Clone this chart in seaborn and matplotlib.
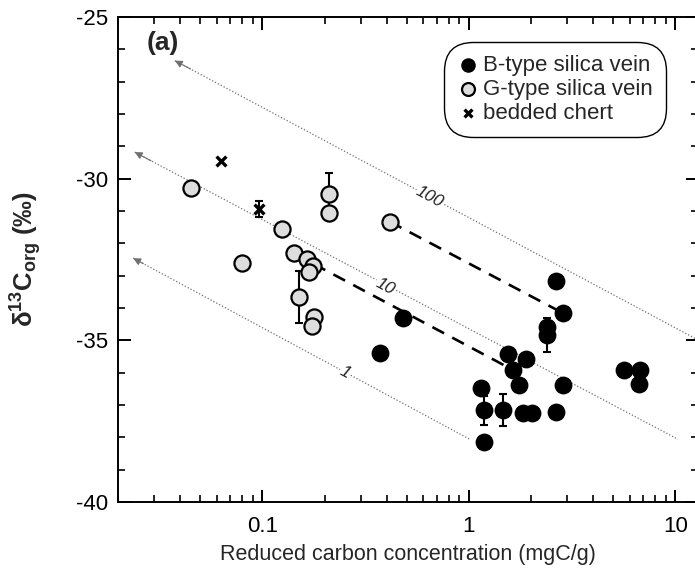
import numpy as np
import pandas as pd
import matplotlib
matplotlib.use("Agg")
import matplotlib.pyplot as plt
import seaborn as sns
from matplotlib.ticker import LogLocator, FixedLocator, MultipleLocator, FuncFormatter

# ---------------- data ----------------
b_x = [0.371, 0.481, 1.143, 1.18, 1.18, 1.456, 1.55, 1.64, 1.746, 1.888, 1.82,
       2.03, 2.64, 2.86, 2.86, 2.64, 2.395, 2.395, 5.65, 6.73, 6.66]
b_y = [-35.40, -34.32, -36.48, -37.16, -38.14, -37.16, -35.42, -35.92, -36.38,
       -35.58, -37.24, -37.24, -37.21, -36.38, -34.16, -33.15, -34.58, -34.84,
       -35.92, -35.92, -36.36]

g_x = [0.045, 0.080, 0.124, 0.142, 0.165, 0.176, 0.169, 0.150, 0.177, 0.173,
       0.210, 0.210, 0.414]
g_y = [-30.28, -32.60, -31.56, -32.31, -32.49, -32.69, -32.90, -33.67, -34.27,
       -34.55, -30.48, -31.05, -31.33]

c_x = [0.063, 0.0965]
c_y = [-29.44, -30.94]

err_x = [0.150, 0.210, 0.0965, 1.18, 1.456, 2.395]
err_y = [-33.67, -30.48, -30.94, -37.16, -37.16, -34.84]
err_dy = [0.80, 0.66, 0.25, 0.45, 0.50, 0.53]

pair_x0 = [0.414, 0.142]
pair_y0 = [-31.33, -32.31]
pair_x1 = [2.86, 1.64]
pair_y1 = [-34.16, -35.92]

iso_labels = ['1', '10', '100']
iso_x0 = [0.0237, 0.0241, 0.0377]
iso_y0 = [-32.46, -29.18, -26.35]
iso_x1 = [1.01, 10.3, 12.8]
iso_y1 = [-38.06, -38.06, -34.98]
iso_lab_x = [0.251, 0.392, 0.647]
iso_lab_y = [-35.98, -33.33, -30.57]

legend_labels = ['B-type silica vein', 'G-type silica vein', 'bedded chert']
x_ticks = [0.1, 1, 10]
y_ticks = [-40, -35, -30, -25]

# ---------------- style ----------------
sns.set_style('ticks')
plt.rcParams['font.family'] = ['Liberation Sans', 'DejaVu Sans']
plt.rcParams['axes.unicode_minus'] = False
plt.rcParams['mathtext.fontset'] = 'custom'
plt.rcParams['mathtext.rm'] = 'Liberation Sans'
plt.rcParams['mathtext.bf'] = 'Liberation Sans:bold'
plt.rcParams['mathtext.it'] = 'Liberation Sans:italic'

fig = plt.figure(figsize=(6.95, 5.74), dpi=100)
ax = fig.add_axes([118 / 695, 72 / 574, 579.5 / 695, 485 / 574])
ax.set_xscale('log')
ax.set_xlim(0.02, 12.8)
ax.set_ylim(-40, -25)

# isopleth dotted lines with arrow heads
for lab, x0, y0, x1, y1, lx, ly in zip(iso_labels, iso_x0, iso_y0, iso_x1, iso_y1,
                                        iso_lab_x, iso_lab_y):
    ax.plot([x0, x1], [y0, y1], linestyle=(0, (1, 1.6)), color='#707070', lw=0.9, zorder=1)
    lx0, lx1 = np.log10(x0), np.log10(x1)
    t = 0.03
    xt = 10 ** (lx0 + t * (lx1 - lx0))
    yt = y0 + t * (y1 - y0)
    ax.annotate('', xy=(x0, y0), xytext=(xt, yt),
                arrowprops=dict(arrowstyle='-|>', color='#707070', lw=0.8,
                                mutation_scale=11, shrinkA=0, shrinkB=0),
                zorder=1)
    p0 = ax.transData.transform((x0, y0))
    p1 = ax.transData.transform((x1, y1))
    ang = np.degrees(np.arctan2(p1[1] - p0[1], p1[0] - p0[0]))
    ax.text(lx, ly, lab, rotation=ang, rotation_mode='anchor', ha='center', va='center',
            fontsize=12.5, style='italic', color='#222222', zorder=2,
            bbox=dict(facecolor='white', edgecolor='none', pad=0.5))

# dashed pair lines
for x0, y0, x1, y1 in zip(pair_x0, pair_y0, pair_x1, pair_y1):
    ax.plot([x0, x1], [y0, y1], color='black', lw=1.9, linestyle=(0, (5, 3.5)), zorder=2)

# error bars
ax.errorbar(err_x, err_y, yerr=err_dy, fmt='none', ecolor='black', elinewidth=1.5,
            capsize=3, capthick=1.5, zorder=3)

df_b = pd.DataFrame({'x': b_x, 'y': b_y})
df_g = pd.DataFrame({'x': g_x, 'y': g_y})
df_c = pd.DataFrame({'x': c_x, 'y': c_y})

sns.scatterplot(data=df_b, x='x', y='y', ax=ax, color='black', marker='o', s=140,
                edgecolor='black', linewidth=1.0, label=legend_labels[0], zorder=4)
sns.scatterplot(data=df_g, x='x', y='y', ax=ax, color='#dddddd', marker='o', s=135,
                edgecolor='black', linewidth=1.6, label=legend_labels[1], zorder=4)
sns.scatterplot(data=df_c, x='x', y='y', ax=ax, color='black', marker='x', s=50,
                linewidth=2.4, label=legend_labels[2], zorder=4)

# axes styling
for sp in ax.spines.values():
    sp.set_visible(True)
    sp.set_linewidth(1.4)
    sp.set_color('black')

ax.xaxis.set_major_locator(FixedLocator(x_ticks))
ax.xaxis.set_minor_locator(LogLocator(base=10, subs=np.arange(2, 10), numticks=20))
ax.xaxis.set_major_formatter(FuncFormatter(lambda v, p: ('%g' % v)))
ax.xaxis.set_minor_formatter(FuncFormatter(lambda v, p: ''))
ax.yaxis.set_major_locator(FixedLocator(y_ticks))
ax.yaxis.set_minor_locator(MultipleLocator(1))
ax.yaxis.set_major_formatter(FuncFormatter(lambda v, p: '%d' % v))

ax.tick_params(which='both', direction='in', top=True, right=True, colors='black',
               labelsize=16)
ax.tick_params(which='major', length=9, width=1.4, pad=7)
ax.tick_params(which='minor', length=5, width=1.2)
ax.tick_params(axis='x', which='major', pad=10)

ax.set_xlabel('Reduced carbon concentration (mgC/g)', fontsize=15.5)
ax.xaxis.set_label_coords(0.5, -0.087)
ax.xaxis.label.set_va('top')
ax.set_ylabel(r'$\mathbf{\delta^{13}C_{org}}$ $\mathbf{(‰)}$', fontsize=18.5)
ax.yaxis.set_label_coords(-0.128, 0.5)

ax.text(0.05, 0.947, '(a)', transform=ax.transAxes, fontsize=19, fontweight='bold',
        ha='left', va='center')

leg = ax.legend(loc='upper right', bbox_to_anchor=(0.934, 0.935), borderaxespad=0,
                fontsize=16, frameon=True, fancybox=True, handletextpad=0.15,
                handlelength=1.0, labelspacing=0.12, borderpad=0.3, markerscale=0.8)
fr = leg.get_frame()
fr.set_edgecolor('black')
fr.set_linewidth(1.0)
fr.set_alpha(1)
fr.set_boxstyle('round', pad=0.3, rounding_size=1.3)

fig.savefig('out.png', dpi=100)
